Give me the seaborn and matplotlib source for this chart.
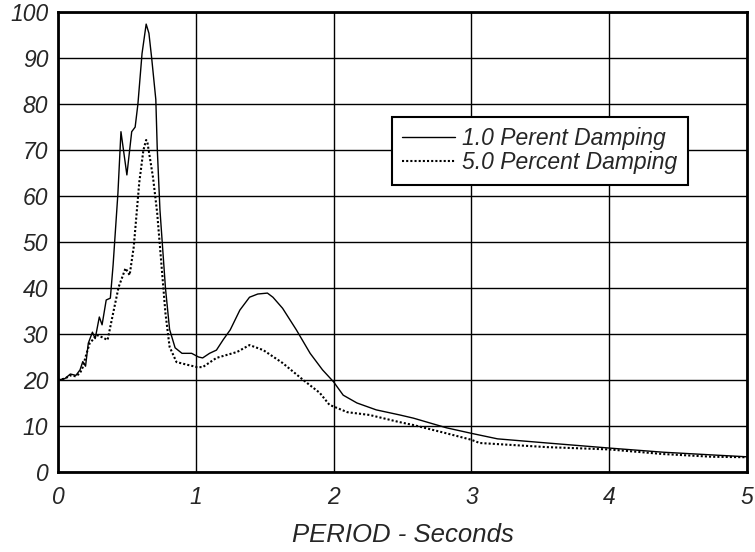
import numpy as np
import pandas as pd
import matplotlib
matplotlib.use("Agg")
import matplotlib.pyplot as plt
import seaborn as sns

# period (s) and spectral values
period_1 = [0, 0.05, 0.09, 0.13, 0.16, 0.18, 0.20, 0.22, 0.25, 0.27, 0.30, 0.32,
            0.35, 0.38, 0.40, 0.435, 0.457, 0.50, 0.535, 0.56, 0.58, 0.61, 0.64,
            0.66, 0.68, 0.71, 0.72, 0.74, 0.78, 0.81, 0.85, 0.90, 0.97, 1.02,
            1.05, 1.10, 1.15, 1.20, 1.25, 1.32, 1.39, 1.45, 1.52, 1.56, 1.63,
            1.73, 1.83, 1.92, 2.00, 2.07, 2.17, 2.31, 2.48, 2.58, 2.82, 3.00,
            3.19, 3.55, 4.00, 4.39, 4.75, 5.00]
damp_1 = [20.0, 20.3, 21.3, 21.0, 22.2, 24.0, 23.0, 28.0, 30.4, 29.0, 33.7, 32.0,
          37.4, 37.8, 45.0, 60.6, 74.0, 64.6, 74.0, 75.0, 80.0, 91.0, 97.4,
          95.4, 90.0, 81.0, 70.7, 57.0, 40.0, 31.0, 27.0, 25.8, 25.8, 25.0,
          24.8, 25.8, 26.5, 28.8, 30.9, 35.2, 38.0, 38.7, 38.9, 38.0, 35.6,
          30.9, 25.8, 22.2, 19.6, 16.7, 15.0, 13.5, 12.4, 11.7, 9.6, 8.4,
          7.2, 6.3, 5.2, 4.3, 3.7, 3.3]

period_5 = [0, 0.05, 0.09, 0.13, 0.16, 0.18, 0.20, 0.23, 0.26, 0.28, 0.32, 0.36,
            0.40, 0.44, 0.49, 0.52, 0.55, 0.57, 0.59, 0.62, 0.64, 0.65, 0.69,
            0.72, 0.75, 0.78, 0.81, 0.86, 0.94, 1.01, 1.05, 1.15, 1.30, 1.39,
            1.49, 1.63, 1.78, 1.90, 1.97, 2.10, 2.26, 2.47, 2.58, 2.82, 3.00,
            3.06, 3.55, 4.00, 4.39, 4.75, 5.00]
damp_5 = [20.0, 20.3, 21.0, 20.8, 21.5, 22.8, 25.0, 28.0, 29.0, 29.8, 29.3, 28.7,
          34.5, 40.2, 44.3, 42.8, 49.0, 56.0, 63.0, 70.0, 72.2, 71.5, 64.0,
          56.3, 45.4, 34.5, 27.2, 23.9, 23.3, 22.8, 22.8, 24.8, 26.1, 27.6,
          26.5, 23.7, 20.0, 17.2, 14.6, 13.0, 12.4, 10.9, 10.2, 8.4, 7.0,
          6.3, 5.4, 4.9, 3.9, 3.3, 3.2]

labels = ["1.0 Perent Damping", "5.0 Percent Damping"]
x_ticks = [0, 1, 2, 3, 4, 5]
y_ticks = list(range(0, 101, 10))

sns.set_style("white")
plt.rcParams['font.family'] = ['Liberation Sans', 'DejaVu Sans']
plt.rcParams['font.style'] = 'italic'

fig = plt.figure(figsize=(7.55, 5.52), dpi=100)
ax = fig.add_axes([0.0768, 0.145, 0.9125, 0.833])

sns.lineplot(x=period_1, y=damp_1, ax=ax, color='black', linewidth=1.0,
             estimator=None, sort=False, label=labels[0])
sns.lineplot(x=period_5, y=damp_5, ax=ax, color='black', linewidth=1.5,
             linestyle=(0, (1, 1)), estimator=None, sort=False, label=labels[1])

ax.set_xlim(0, 5)
ax.set_ylim(0, 100)
ax.set_xticks(x_ticks)
ax.set_yticks(y_ticks)
ax.grid(True, color='black', linewidth=1.0)
ax.tick_params(axis='x', length=0, labelsize=16.5, pad=10)
ax.tick_params(axis='y', length=0, labelsize=16.5, pad=7)
for s in ax.spines.values():
    s.set_linewidth(2)
    s.set_color('black')
ax.set_xlabel("PERIOD - Seconds", fontsize=18.5, labelpad=10)
ax.set_ylabel("")

leg = ax.legend(loc='upper left', bbox_to_anchor=(0.485, 0.772), fontsize=16.5,
                frameon=True, fancybox=False, framealpha=1, edgecolor='black',
                handlelength=2.3, borderpad=0.45, labelspacing=0.05,
                borderaxespad=0, handletextpad=0.3)
leg.get_frame().set_linewidth(1.5)

fig.savefig("out.png", dpi=100)
